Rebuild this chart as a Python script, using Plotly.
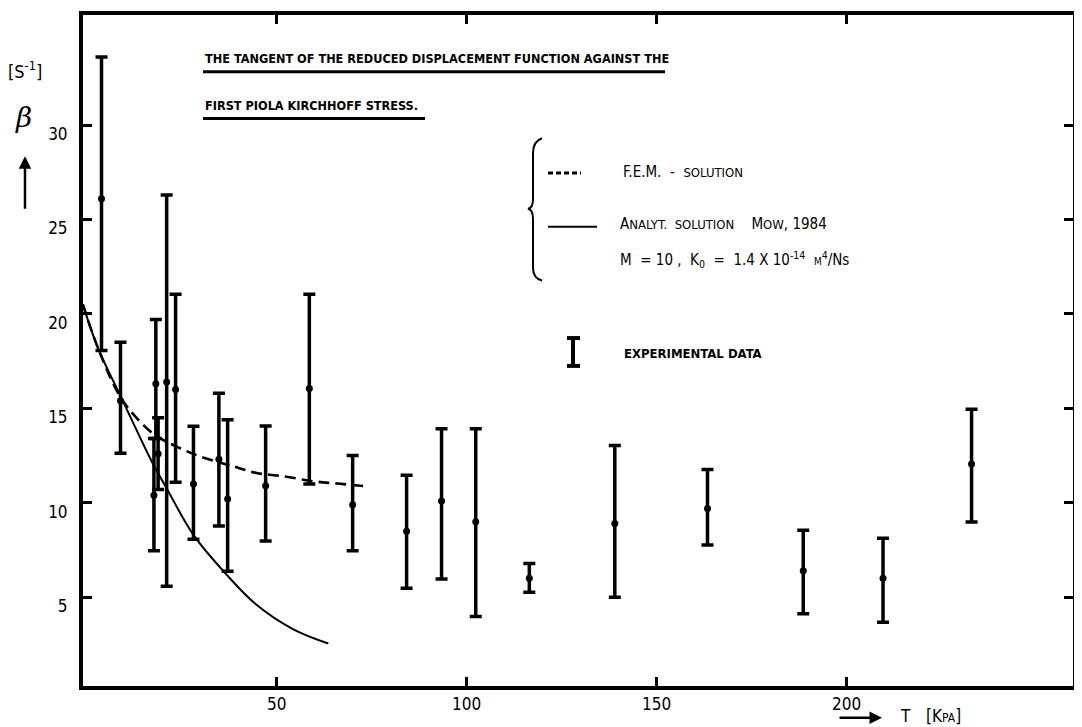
import plotly.graph_objects as go

# ---------------- data ----------------
T_exp = [3.9, 8.9, 17.7, 18.2, 18.8, 21.05, 23.4, 28.1, 34.8, 37.1, 47.1, 58.6,
         70.0, 84.2, 93.4, 102.4, 116.5, 139.0, 163.4, 188.6, 209.6, 232.9]
beta_exp = [26.1, 15.4, 10.4, 16.3, 12.6, 16.4, 16.0, 11.0, 12.3, 10.2, 10.9, 16.05,
            9.9, 8.5, 10.1, 9.0, 6.0, 8.9, 9.7, 6.4, 6.0, 12.05]
beta_hi = [33.6, 18.5, 13.4, 19.7, 14.5, 26.3, 21.05, 14.05, 15.8, 14.4, 14.07, 21.05,
           12.5, 11.46, 13.92, 13.92, 6.79, 13.04, 11.76, 8.55, 8.13, 14.95]
beta_lo = [18.07, 12.63, 7.46, 13.4, 10.7, 5.58, 11.09, 8.07, 8.77, 6.37, 7.98, 11.0,
           7.46, 5.47, 5.97, 3.98, 5.26, 5.0, 7.76, 4.13, 3.68, 8.98]

T_fem = [-1.0, 3.05, 9.2, 15.8, 19.3, 24.6, 29.8, 38.6, 44.7, 51.7, 59.6, 66.0, 73.3]
beta_fem = [20.5, 18.16, 15.5, 13.95, 13.42, 12.89, 12.46, 11.93, 11.58, 11.41, 11.14, 11.02, 10.88]

T_ana = [-1.0, 3.05, 9.2, 17.1, 21.5, 28.1, 36.8, 44.7, 54.4, 63.6]
beta_ana = [20.5, 18.16, 15.53, 12.2, 10.6, 8.3, 6.2, 4.6, 3.3, 2.55]

x_ticks = [50, 100, 150, 200]
y_ticks = [5, 10, 15, 20, 25, 30]

TITLE_1 = "THE TANGENT OF THE REDUCED DISPLACEMENT FUNCTION AGAINST THE"
TITLE_2 = "FIRST PIOLA KIRCHHOFF STRESS."

FONT = "DejaVu Sans Condensed, Liberation Sans Narrow, Arial Narrow, sans-serif"

# ---------------- layout geometry ----------------
# the page body has an 8px margin; all pixel numbers below are page pixels
OFF = 8
W, H = 1082 - OFF, 727 - OFF
PLOT_L, PLOT_R, PLOT_T, PLOT_B = 83, 1073, 11, 686
L = PLOT_L - OFF
T = PLOT_T - OFF
R = W - (PLOT_R - OFF)
B = H - (PLOT_B - OFF)
PW, PH = PLOT_R - PLOT_L, PLOT_B - PLOT_T


def px(X):
    return (X - PLOT_L) / PW


def py(Y):
    return (PLOT_B - Y) / PH


err_plus = [h - c for h, c in zip(beta_hi, beta_exp)]
err_minus = [c - l for c, l in zip(beta_exp, beta_lo)]

fig = go.Figure()
fig.add_trace(go.Scatter(x=T_ana, y=beta_ana, mode="lines", line_shape="spline",
                         line=dict(color="black", width=2), name="Analyt. solution"))
fig.add_trace(go.Scatter(x=T_fem, y=beta_fem, mode="lines", line_shape="spline",
                         line=dict(color="black", width=2.6, dash="11px,6px"),
                         name="F.E.M. - solution"))
fig.add_trace(go.Scatter(x=T_exp, y=beta_exp, mode="markers",
                         marker=dict(color="black", size=7),
                         error_y=dict(type="data", array=err_plus, arrayminus=err_minus,
                                      color="black", thickness=3.5, width=6),
                         name="Experimental data"))

axis_common = dict(showline=True, linewidth=4, linecolor="black", mirror="ticks",
                   ticks="inside", ticklen=9, tickwidth=3, tickcolor="black",
                   showgrid=False, zeroline=False,
                   tickfont=dict(family=FONT, size=17, color="black"))
fig.update_xaxes(range=[-0.97, 259.6], tickvals=x_ticks, **axis_common)
fig.update_yaxes(range=[0.3, 35.83], tickvals=y_ticks, ticklabelshift=9,
                 ticklabelstandoff=8, **axis_common)

ann = []
shapes = []

# title lines with heavy underlines
ann.append(dict(x=px(203), y=py(54.5), text="<b>" + TITLE_1 + "</b>", xanchor="left",
                yanchor="middle", font=dict(size=12.6)))
ann.append(dict(x=px(203), y=py(102.5), text="<b>" + TITLE_2 + "</b>", xanchor="left",
                yanchor="middle", font=dict(size=12.6)))
shapes.append(dict(type="line", xref="paper", yref="paper", x0=px(203), x1=px(665),
                   y0=py(68), y1=py(68), line=dict(color="black", width=3)))
shapes.append(dict(type="line", xref="paper", yref="paper", x0=px(203), x1=px(425),
                   y0=py(115), y1=py(115), line=dict(color="black", width=3)))

# legend brace
pts = [(542, 135), (533, 138), (533, 150), (533, 196), (533, 205), (528, 206),
       (533, 207), (533, 216), (533, 265), (533, 276), (542, 278)]
P = [(px(a), py(b)) for a, b in pts]
path = ("M {0[0]},{0[1]} Q {1[0]},{1[1]} {2[0]},{2[1]} L {3[0]},{3[1]} "
        "Q {4[0]},{4[1]} {5[0]},{5[1]} Q {6[0]},{6[1]} {7[0]},{7[1]} "
        "L {8[0]},{8[1]} Q {9[0]},{9[1]} {10[0]},{10[1]}").format(*P)
shapes.append(dict(type="path", xref="paper", yref="paper", path=path,
                   line=dict(color="black", width=2)))

SC = "<span style='font-size:13px'>"
# legend: dashed sample
shapes.append(dict(type="line", xref="paper", yref="paper", x0=px(548), x1=px(581),
                   y0=py(170), y1=py(170), line=dict(color="black", width=3, dash="5px,3px")))
ann.append(dict(x=px(621), y=py(169), xanchor="left", yanchor="middle",
                text="F.E.M.  -  " + SC + "SOLUTION</span>",
                font=dict(size=15)))
# legend: solid sample
shapes.append(dict(type="line", xref="paper", yref="paper", x0=px(548), x1=px(597),
                   y0=py(224), y1=py(224), line=dict(color="black", width=2)))
ann.append(dict(x=px(618), y=py(221), xanchor="left", yanchor="middle",
                text="A" + SC + "NALYT.  SOLUTION</span>    M" + SC + "OW</span>, 1984",
                font=dict(size=15)))
ann.append(dict(x=px(618), y=py(257), xanchor="left", yanchor="middle",
                text="M  = 10 ,  K<sub>0</sub>  =  1.4 X 10<sup>-14</sup>  "
                     "<span style='font-size:10px'>M</span><sup>4</sup>/Ns",
                font=dict(size=15)))
# legend: experimental data icon
shapes.append(dict(type="line", xref="paper", yref="paper", x0=px(573), x1=px(573),
                   y0=py(336), y1=py(364), line=dict(color="black", width=4)))
for yy in (336, 364):
    shapes.append(dict(type="line", xref="paper", yref="paper", x0=px(567), x1=px(580),
                       y0=py(yy), y1=py(yy), line=dict(color="black", width=4)))
ann.append(dict(x=px(622), y=py(352), xanchor="left", yanchor="middle",
                text="<b>EXPERIMENTAL DATA</b>", font=dict(size=13)))

# y-axis title
ann.append(dict(x=px(25), y=py(66), text="[S<sup>-1</sup>]", xanchor="center",
                yanchor="middle", font=dict(size=18)))
ann.append(dict(x=px(23), y=py(114), text="<i>β</i>", xanchor="center",
                yanchor="middle", font=dict(size=28, family="DejaVu Serif, serif")))
ann.append(dict(x=px(25), y=py(153), ax=0, ay=54, text="", showarrow=True,
                arrowhead=2, arrowsize=1, arrowwidth=2.5, arrowcolor="black"))

# x-axis title
ann.append(dict(x=px(882), y=py(718), ax=-44, ay=0, text="", showarrow=True,
                arrowhead=2, arrowsize=1, arrowwidth=2.5, arrowcolor="black"))
ann.append(dict(x=px(905), y=py(716), text="T", xanchor="center", yanchor="middle",
                font=dict(size=17)))
ann.append(dict(x=px(943), y=py(716), text="[K<span style='font-size:12px'>PA</span>]",
                xanchor="center", yanchor="middle", font=dict(size=17)))

for a in ann:
    a.setdefault("xref", "paper")
    a.setdefault("yref", "paper")
    a.setdefault("showarrow", False)

fig.update_layout(width=W, height=H, margin=dict(l=L, r=R, t=T, b=B, pad=0),
                  plot_bgcolor="white", paper_bgcolor="white", showlegend=False,
                  font=dict(family=FONT, size=15, color="black"),
                  annotations=ann, shapes=shapes)

fig.write_html("out.html")
